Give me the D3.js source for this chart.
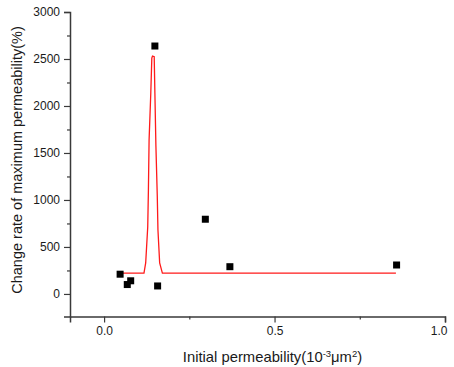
<!DOCTYPE html>
<html><head><meta charset="utf-8">
<script src="https://cdn.jsdelivr.net/npm/d3@7"></script>
<style>body{margin:0;background:#fff}svg{display:block}text{font-family:"Liberation Sans",Arial,sans-serif}</style>
</head><body><svg id="c" width="454" height="367"></svg>
<script>
// scatter data
const pointX = [0.047, 0.078, 0.068, 0.149, 0.157, 0.297, 0.369, 0.858];
const pointY = [210, 140, 100, 2638, 85, 795, 290, 308];
// fitted curve
const fitX = [0.047, 0.117, 0.122, 0.128, 0.130, 0.132, 0.137, 0.140, 0.142, 0.147, 0.149, 0.152, 0.156, 0.158, 0.163, 0.171, 0.856];
const fitY = [222, 222, 330, 713, 1106, 1638, 2138, 2510, 2532, 2525, 2138, 1574, 1042, 681, 330, 222, 222];
const xTicks = [0.0, 0.5, 1.0];
const xMinor = [0.25, 0.75];
const yTicks = [0, 500, 1000, 1500, 2000, 2500, 3000];
const yMinor = [250, 750, 1250, 1750, 2250, 2750];

const svg = d3.select("#c");
const x = d3.scaleLinear().domain([-0.1, 1.0]).range([70, 445]);
const y = d3.scaleLinear().domain([-240, 3000]).range([316.5, 12]);
const axisColor = "#3a3a3a";

const gx = svg.append("g").attr("transform", "translate(0,316.5)");
gx.call(d3.axisBottom(x).tickValues(xTicks).tickFormat(d3.format(".1f")).tickSizeOuter(0).tickSize(6).tickPadding(4));
gx.append("g").call(d3.axisBottom(x).tickValues(xMinor).tickFormat("").tickSize(3).tickSizeOuter(0)).select(".domain").remove();
const gy = svg.append("g").attr("transform", "translate(70,0)");
gy.call(d3.axisLeft(y).tickValues(yTicks).tickFormat(d3.format("d")).tickSizeOuter(0).tickSize(6).tickPadding(4));
gy.append("g").call(d3.axisLeft(y).tickValues(yMinor).tickFormat("").tickSize(3).tickSizeOuter(0)).select(".domain").remove();
svg.selectAll(".domain").attr("stroke", axisColor).attr("stroke-width", 1.5);
svg.selectAll(".tick line").attr("stroke", axisColor).attr("stroke-width", 1.2);
svg.selectAll(".tick text").attr("fill", "#1a1a1a").style("font-size", "12px").style("font-family", "'Liberation Sans',Arial,sans-serif");
gx.selectAll(".tick text").filter(d => d === 1.0).attr("text-anchor", "end").attr("dx", 2);

// fit line
const fit = fitX.map((v, i) => [v, fitY[i]]);
svg.append("path").datum(fit)
  .attr("fill", "none").attr("stroke", "#ff1a1a").attr("stroke-width", 1.3)
  .attr("d", d3.line().x(d => x(d[0])).y(d => y(d[1])));

// points
const pts = pointX.map((v, i) => [v, pointY[i]]);
const s = 7;
svg.append("g").selectAll("rect").data(pts).join("rect")
  .attr("x", d => x(d[0]) - s/2).attr("y", d => y(d[1]) - s/2)
  .attr("width", s).attr("height", s).attr("fill", "#000");

// titles
const xl = svg.append("text").attr("x", 272.5).attr("y", 361.5).attr("text-anchor", "middle")
  .style("font-size", "14.8px").attr("fill", "#1a1a1a");
xl.append("tspan").text("Initial permeability(10");
xl.append("tspan").attr("dy", -5).style("font-size", "9.5px").text("-3");
xl.append("tspan").attr("dy", 5).text("μm");
xl.append("tspan").attr("dy", -5).style("font-size", "9.5px").text("2");
xl.append("tspan").attr("dy", 5).text(")");

svg.append("text").attr("transform", "translate(22,160) rotate(-90)").attr("text-anchor", "middle")
  .style("font-size", "14.5px").attr("fill", "#1a1a1a").text("Change rate of maximum permeability(%)");
</script></body></html>
